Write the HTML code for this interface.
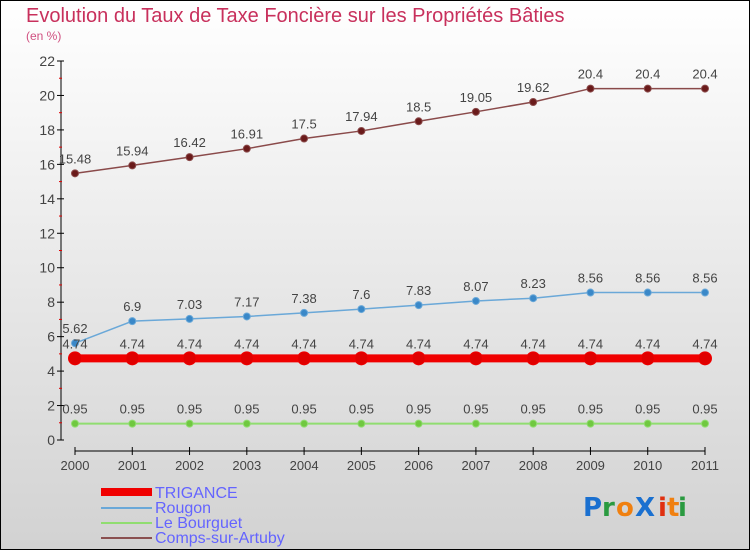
<!DOCTYPE html>
<html><head><meta charset="utf-8"><style>
body{margin:0}
#c{width:750px;height:550px;position:relative;overflow:hidden;background:linear-gradient(#ffffff,#d2d2d2);font-family:"Liberation Sans","DejaVu Sans",sans-serif}
</style></head><body>
<div id="c">
<svg id="s" width="750" height="550" style="position:absolute;left:0;top:0">
<rect x="0.5" y="0.5" width="749" height="549" fill="none" stroke="#000"/>
<text x="26" y="22" font-size="20" fill="#c8305c">Evolution du Taux de Taxe Foncière sur les Propriétés Bâties</text>
<text x="26" y="40" font-size="12" fill="#d05080">(en %)</text>
<g id="axes"></g><g id="series"></g>
<g font-size="16" fill="#6464ff">
<rect x="101" y="488" width="51" height="8" fill="#f00000"/>
<text x="155" y="498">TRIGANCE</text>
<rect x="101" y="507" width="51" height="2" fill="#6aa8d8"/>
<text x="155" y="513">Rougon</text>
<rect x="101" y="522" width="51" height="2" fill="#90dd70"/>
<text x="155" y="528">Le Bourguet</text>
<rect x="101" y="537" width="51" height="2" fill="#8a5050"/>
<text x="155" y="543">Comps-sur-Artuby</text>
</g>
<g font-size="26" font-family="DejaVu Sans" font-weight="bold">
<text x="583" y="516" fill="#1a70d0">P</text><text x="602" y="516" fill="#2a9a40">r</text><text x="616" y="516" fill="#f08010">o</text><text x="635" y="516" fill="#1a70d0">X</text><text x="658" y="516" fill="#e03010">i</text><text x="667" y="516" fill="#f08010">t</text><text x="678" y="516" fill="#2a9a40">i</text>
</g>
</svg>
</div>
<script>
const years=["2000","2001","2002","2003","2004","2005","2006","2007","2008","2009","2010","2011"];
const trigance=[4.74,4.74,4.74,4.74,4.74,4.74,4.74,4.74,4.74,4.74,4.74,4.74];
const rougon=[5.62,6.9,7.03,7.17,7.38,7.6,7.83,8.07,8.23,8.56,8.56,8.56];
const bourguet=[0.95,0.95,0.95,0.95,0.95,0.95,0.95,0.95,0.95,0.95,0.95,0.95];
const comps=[15.48,15.94,16.42,16.91,17.5,17.94,18.5,19.05,19.62,20.4,20.4,20.4];
const yTicks=[0,2,4,6,8,10,12,14,16,18,20,22];
const NS="http://www.w3.org/2000/svg";
const xs=i=>75+i*(630/11);
const ys=v=>440-v*(379/22);
function mk(t,a,p){const e=document.createElementNS(NS,t);for(const k in a)e.setAttribute(k,a[k]);p.appendChild(e);return e;}
const ax=document.getElementById('axes');
let l=mk('line',{x1:61,y1:61,x2:61,y2:440,stroke:'#000'},ax);


yTicks.forEach(v=>{
 const t=mk('line',{x1:57,x2:64,y1:ys(v),y2:ys(v),stroke:'#000'},ax);
 
 
 if(v<22){const m=mk('line',{x1:59,x2:62,y1:ys(v+1),y2:ys(v+1),stroke:'#e00000'},ax);
 
 }
 const tx=mk('text',{x:55,y:ys(v)+5,'text-anchor':'end','font-size':14,fill:'#444'},ax);tx.textContent=v;
 
 
});
l=mk('line',{x1:75,y1:451,x2:705,y2:451,stroke:'#000'},ax);


years.forEach((y,i)=>{
 const t=mk('line',{x1:xs(i),x2:xs(i),y1:447,y2:455,stroke:'#000'},ax);
 
 
 const tx=mk('text',{x:xs(i),y:470,'text-anchor':'middle','font-size':13,fill:'#444'},ax);tx.textContent=y;
 
 
});
const sg=document.getElementById('series');
function series(name,vals,col,lw,r,dot){
 const g=mk('g',{},sg);
 
 
 const p=mk('polyline',{points:vals.map((v,i)=>xs(i)+','+ys(v)).join(' '),fill:'none',stroke:col,'stroke-width':lw},g);
 
 
 vals.forEach((v,i)=>{
  const c=mk('circle',{cx:xs(i),cy:ys(v),r:r,fill:dot,stroke:col,'stroke-width':1},g);
  
  
  const t=mk('text',{x:xs(i),y:ys(v)-10,'text-anchor':'middle','font-size':13,fill:'#444'},g);
  t.textContent=v.toFixed(2).replace(/\.?0+$/,'');
  
  
 });
}
series('comps',comps,'#8a4a4a',1.5,3.5,'#6a1a1a');
series('rougon',rougon,'#6aa8d8',1.5,3.5,'#3a88c8');
series('le-bourguet',bourguet,'#90dd70',2,3.5,'#70c840');
series('trigance',trigance,'#f00000',8,6.5,'#e00000');
</script>
</body></html>
